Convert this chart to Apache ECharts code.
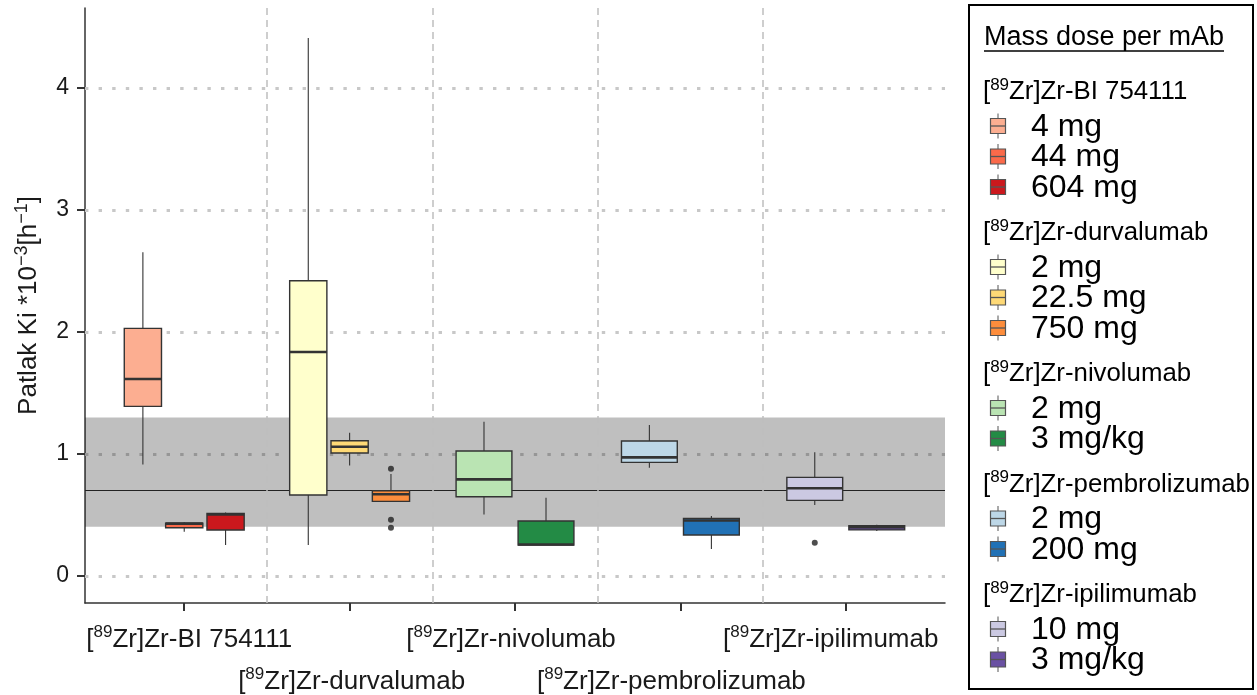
<!DOCTYPE html>
<html>
<head>
<meta charset="utf-8">
<script src="https://cdn.jsdelivr.net/npm/echarts@6/dist/echarts.min.js"></script>
<style>
  html, body { margin: 0; padding: 0; background: #fff; }
  #chart { width: 1257px; height: 695px; }
</style>
</head>
<body>
<div id="chart"></div>
<script>
// ---------------- data ----------------
const groupNames = ['BI 754111', 'durvalumab', 'nivolumab', 'pembrolizumab', 'ipilimumab'];
const doseLabels = [
  ['4 mg', '44 mg', '604 mg'],
  ['2 mg', '22.5 mg', '750 mg'],
  ['2 mg', '3 mg/kg'],
  ['2 mg', '200 mg'],
  ['10 mg', '3 mg/kg']
];
const doseColors = ['#FCAE91', '#FB6A4A', '#CB181D', '#FFFFCC', '#FED976', '#FD8D3C',
                    '#BAE4B3', '#238B45', '#BDD7E7', '#2171B5', '#CBC9E2', '#6A51A3'];
// box statistics, in order of the doses above (flattened)
const boxMin = [0.915, 0.363, 0.254, 0.254, 0.907, 0.612, 0.505, 0.254, 0.888, 0.221, 0.582, 0.370];
const boxQ1  = [1.391, 0.396, 0.377, 0.664, 1.008, 0.612, 0.650, 0.254, 0.932, 0.336, 0.620, 0.378];
const boxMed = [1.615, 0.430, 0.505, 1.836, 1.060, 0.670, 0.792, 0.258, 0.973, 0.455, 0.719, 0.400];
const boxQ3  = [2.030, 0.434, 0.514, 2.420, 1.109, 0.699, 1.025, 0.451, 1.107, 0.473, 0.809, 0.412];
const boxMax = [2.653, 0.440, 0.520, 4.410, 1.175, 0.836, 1.265, 0.642, 1.238, 0.492, 1.014, 0.420];
const outliers = [[], [], [], [], [], [0.880, 0.462, 0.396], [], [], [], [], [0.273], []];
const bandRange = [0.404, 1.30];
const refLine = 0.705;
const yTicks = [0, 1, 2, 3, 4];
const xTicks = [1, 2, 3, 4, 5];
const groupSeparators = [1.5, 2.5, 3.5, 4.5];

// ---------------- layout tweaks (pixels, not data) ----------------
const labelShiftPx = [5, 2, -4, -9, -15];

// ---------------- build ----------------
const F = "'Liberation Sans', Arial, sans-serif";
const dodgeWidth = 0.75, pad = 0.9;
const boxData = [];
const outlierData = [];
let k = 0;
groupNames.forEach((g, gi) => {
  const n = doseLabels[gi].length;
  const slot = dodgeWidth / n;
  doseLabels[gi].forEach((d, di) => {
    const xc = gi + 1 + (di - (n - 1) / 2) * slot;
    boxData.push([xc, slot * pad / 2, boxMin[k], boxQ1[k], boxMed[k], boxQ3[k], boxMax[k], k]);
    outliers[k].forEach(v => outlierData.push([xc, v]));
    k++;
  });
});

function renderBox(params, api) {
  const x = api.value(0), hw = api.value(1);
  const vmin = api.value(2), q1 = api.value(3), med = api.value(4), q3 = api.value(5), vmax = api.value(6);
  const color = doseColors[api.value(7)];
  const tl = api.coord([x - hw, q3]);
  const br = api.coord([x + hw, q1]);
  const cTop = api.coord([x, vmax]);
  const cBot = api.coord([x, vmin]);
  const mL = api.coord([x - hw, med]);
  const mR = api.coord([x + hw, med]);
  const ws = { stroke: '#333', lineWidth: 1.1 };
  return {
    type: 'group',
    children: [
      { type: 'line', shape: { x1: cTop[0], y1: cTop[1], x2: cTop[0], y2: tl[1] }, style: ws },
      { type: 'line', shape: { x1: cBot[0], y1: br[1], x2: cBot[0], y2: cBot[1] }, style: ws },
      { type: 'rect', shape: { x: tl[0], y: tl[1], width: br[0] - tl[0], height: br[1] - tl[1] },
        style: { fill: color, stroke: '#333', lineWidth: 1.4 } },
      { type: 'line', shape: { x1: mL[0], y1: mL[1], x2: mR[0], y2: mR[1] },
        style: { stroke: '#333', lineWidth: 2.6 } }
    ]
  };
}

const supRich = {
  t: { fontSize: 26, color: '#1a1a1a', fontFamily: F },
  s: { fontSize: 17, color: '#1a1a1a', fontFamily: F, padding: [0, 0, 14, 0] }
};
labelShiftPx.forEach((s, i) => { supRich['g' + i] = { width: Math.max(1, 2 * Math.abs(s)), fontSize: 10 }; });
function isoLabel(name) {
  return '{t|[}{s|89}{t|Zr]Zr-' + name + '}';
}
function axisIsoLabel(v) {
  const i = Math.round(v) - 1;
  const gap = '{g' + i + '| }';
  const base = isoLabel(groupNames[i]);
  return labelShiftPx[i] >= 0 ? gap + base : base + gap;
}

// ---------------- legend (graphic) ----------------
const legendEls = [];
legendEls.push({ type: 'rect', z: 100, shape: { x: 969, y: 5, width: 284, height: 684 },
  style: { fill: '#fff', stroke: '#000', lineWidth: 2 } });
legendEls.push({ type: 'text', z: 101, x: 984, y: 38,
  style: { text: 'Mass dose per mAb', font: '27px ' + F, fill: '#000', verticalAlign: 'middle' } });
legendEls.push({ type: 'line', z: 101, shape: { x1: 984, y1: 51, x2: 1224, y2: 51 },
  style: { stroke: '#000', lineWidth: 1.5 } });
let ly = 92, ci = 0;
groupNames.forEach((g, gi) => {
  legendEls.push({ type: 'text', z: 101, x: 983, y: ly,
    style: { text: isoLabel(g), rich: {
      t: { fontSize: 25.8, fill: '#000', fontFamily: F },
      s: { fontSize: 17, fill: '#000', fontFamily: F, padding: [0, 0, 14, 0] } },
      verticalAlign: 'middle' } });
  ly += 34;
  doseLabels[gi].forEach((d, di) => {
    const col = doseColors[ci++];
    const cx = 998, hw = 7.5, hh = 7.5;
    legendEls.push({ type: 'group', z: 101, children: [
      { type: 'line', z: 101, shape: { x1: cx, y1: ly - hh - 5, x2: cx, y2: ly + hh + 5 }, style: { stroke: '#555', lineWidth: 1 } },
      { type: 'rect', z: 101, shape: { x: cx - hw, y: ly - hh, width: 2 * hw, height: 2 * hh }, style: { fill: col, stroke: '#555', lineWidth: 1.2 } },
      { type: 'line', z: 101, shape: { x1: cx - hw, y1: ly, x2: cx + hw, y2: ly }, style: { stroke: '#555', lineWidth: 1.3 } }
    ] });
    legendEls.push({ type: 'text', z: 101, x: 1031, y: ly + 1,
      style: { text: d, font: '32px ' + F, fill: '#000', verticalAlign: 'middle' } });
    if (di < doseLabels[gi].length - 1) ly += 30.5;
  });
  ly += 46;
});

// ---------------- chart ----------------
const xBase = {
  type: 'value', min: 0.4, max: 5.6, position: 'bottom',
  splitLine: { show: false }
};
const chart = echarts.init(document.getElementById('chart'), null, { renderer: 'canvas' });
chart.setOption({
  animation: false,
  backgroundColor: '#fff',
  grid: { left: 85, right: 312, top: 8, bottom: 92, containLabel: false, outerBoundsMode: 'none' },
  xAxis: [
    Object.assign({}, xBase, {
      axisLine: { show: true, onZero: false, lineStyle: { color: '#333', width: 1.5 } },
      axisTick: { show: true, customValues: xTicks, length: 8, lineStyle: { color: '#333', width: 2 } },
      axisLabel: {
        show: true, customValues: xTicks.filter((v, i) => i % 2 === 0), margin: 21,
        hideOverlap: false, formatter: axisIsoLabel, rich: supRich
      }
    }),
    Object.assign({}, xBase, {
      axisLine: { show: false, onZero: false },
      axisTick: { show: false },
      axisLabel: {
        show: true, customValues: xTicks.filter((v, i) => i % 2 === 1), margin: 63,
        hideOverlap: false, formatter: axisIsoLabel, rich: supRich
      }
    })
  ],
  yAxis: {
    type: 'value', min: -0.221, max: 4.656,
    splitLine: { show: false },
    axisLine: { show: true, lineStyle: { color: '#333', width: 1.5 } },
    axisTick: { show: true, customValues: yTicks, length: 8, lineStyle: { color: '#333', width: 2 } },
    axisLabel: { show: true, customValues: yTicks, margin: 16, fontSize: 23, color: '#1a1a1a', fontFamily: F },
    name: '{t|Patlak Ki *10}{s|−3}{t|[h}{s|−1}{t|]}',
    nameLocation: 'middle', nameRotate: 90, nameGap: 40,
    nameTextStyle: {
      rich: {
        t: { fontSize: 26, color: '#1a1a1a', fontFamily: F },
        s: { fontSize: 18, color: '#1a1a1a', fontFamily: F, padding: [0, 0, 14, 0] }
      }
    }
  },
  series: [
    { // horizontal dotted grid
      type: 'line', data: [], z: 1, silent: true,
      markLine: { z: 1, silent: true, symbol: 'none', label: { show: false }, animation: false,
        lineStyle: { color: '#C8C8C8', width: 3, type: [3.4, 10.2], cap: 'butt' },
        data: yTicks.map(v => ({ yAxis: v })) }
    },
    { // reference band and line
      type: 'line', data: [], z: 2, silent: true,
      markArea: { z: 2, silent: true, itemStyle: { color: 'rgba(0,0,0,0.25)' }, data: [[{ yAxis: bandRange[0] }, { yAxis: bandRange[1] }]] },
      markLine: { z: 2, silent: true, symbol: 'none', label: { show: false }, animation: false,
        lineStyle: { color: '#222', width: 1.2, type: 'solid' },
        data: [{ yAxis: refLine }] }
    },
    { // group separators
      type: 'line', data: [], z: 3, silent: true,
      markLine: { z: 3, silent: true, symbol: 'none', label: { show: false }, animation: false,
        lineStyle: { color: '#BFBFBF', width: 1.5, type: [7, 5], cap: 'butt' },
        data: groupSeparators.map(v => ({ xAxis: v })) }
    },
    {
      type: 'custom', z: 4, renderItem: renderBox, data: boxData,
      encode: { x: 0, y: [2, 3, 4, 5, 6] }, silent: true
    },
    {
      type: 'scatter', z: 5, data: outlierData, symbolSize: 6, silent: true,
      itemStyle: { color: '#222' }
    }
  ],
  graphic: legendEls
});
</script>
</body>
</html>
